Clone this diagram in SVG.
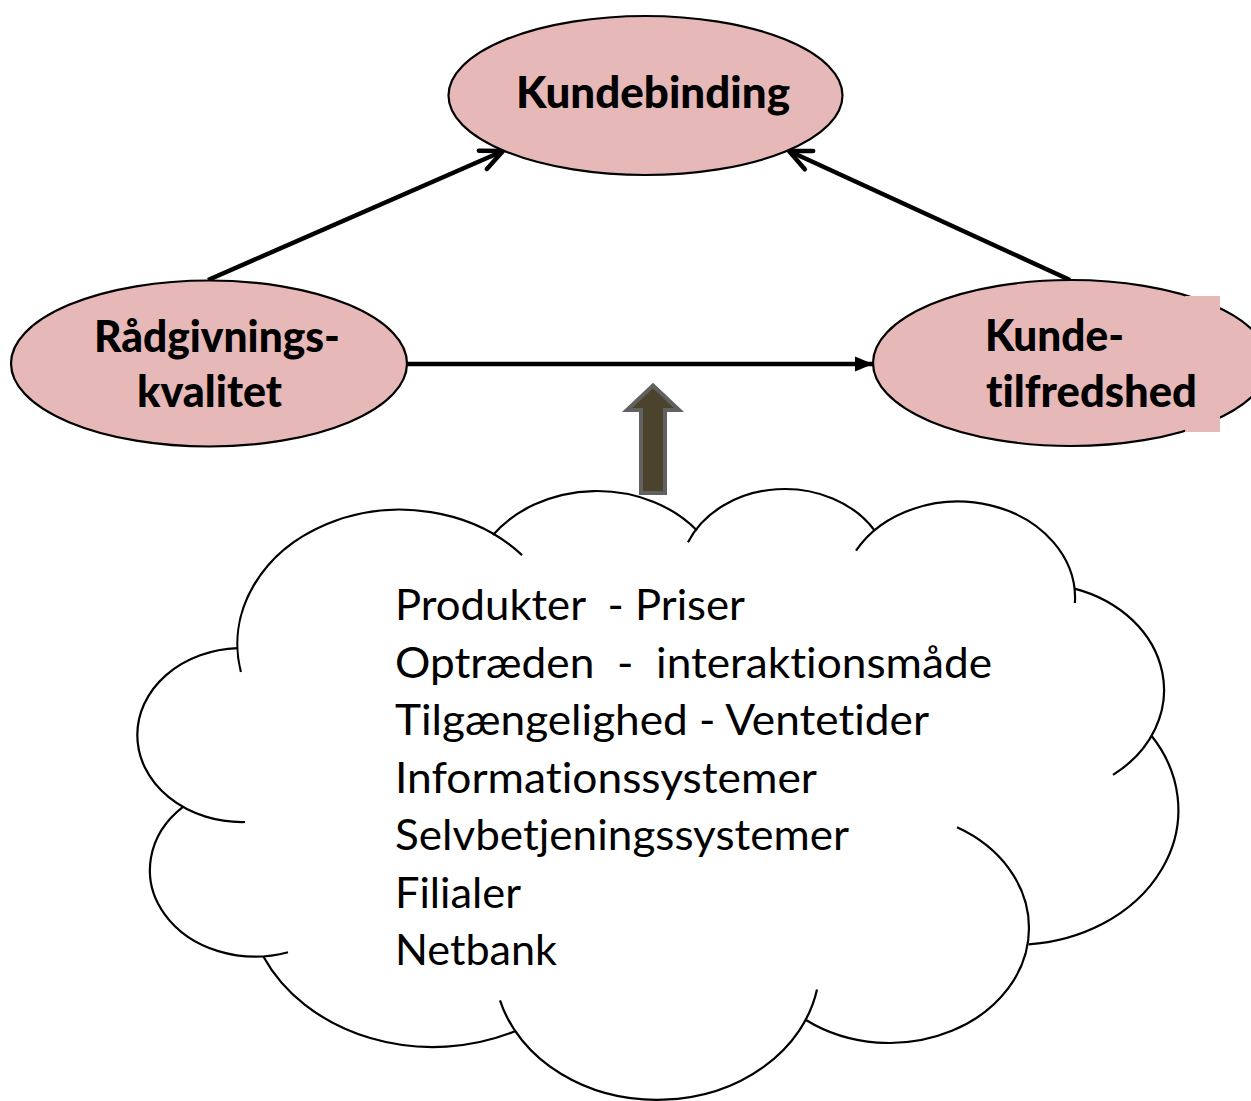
<svg xmlns="http://www.w3.org/2000/svg" width="1251" height="1101" viewBox="0 0 1251 1101">
<defs>
<style>
text{font-variant-ligatures:none;font-feature-settings:"liga" 0,"clig" 0,"dlig" 0}
.node ellipse{fill:#e6b8b7;stroke:#000;stroke-width:2.2}
.lbl{font-family:Lato,"Open Sans","Liberation Sans",sans-serif;font-weight:900;font-size:43px;fill:#000}
.item{font-family:Lato,"Open Sans","Liberation Sans",sans-serif;font-size:42px;fill:#000;white-space:pre}
.cl{fill:none;stroke:#000;stroke-width:2.2}
.conn{stroke:#000;stroke-width:4.5;fill:none}
</style>
<marker id="chev" markerUnits="userSpaceOnUse" orient="auto" overflow="visible" refX="0" refY="0" markerWidth="30" markerHeight="30">
<path d="M-22,-10 L0,0 L-22,10" fill="none" stroke="#000" stroke-width="4.5" stroke-linecap="round" stroke-linejoin="round"/>
</marker>
<marker id="tri" markerUnits="userSpaceOnUse" orient="auto" overflow="visible" refX="0" refY="0" markerWidth="30" markerHeight="30">
<path d="M-18,-7.5 L0,0 L-18,7.5 Z" fill="#000"/>
</marker>
</defs>
<rect width="1251" height="1101" fill="#fff"/>

<g id="connectors">
<path class="conn" d="M208,280 L503,151" marker-end="url(#chev)"/>
<path class="conn" d="M1070,280 L789,151" marker-end="url(#chev)"/>
<path class="conn" d="M407,364 L873,364" marker-end="url(#tri)"/>
</g>

<g id="kundebinding" class="node">
<ellipse cx="645.5" cy="95.5" rx="197" ry="79.5"/>
<text class="lbl" x="516" y="108" textLength="274" lengthAdjust="spacingAndGlyphs">Kundebinding</text>
</g>

<g id="raadgivningskvalitet" class="node">
<ellipse cx="209" cy="363.5" rx="198" ry="83"/>
<text class="lbl" x="94" y="352" textLength="246" lengthAdjust="spacingAndGlyphs">Rådgivnings-</text>
<text class="lbl" x="137" y="407" textLength="145" lengthAdjust="spacingAndGlyphs">kvalitet</text>
</g>

<g id="kundetilfredshed" class="node">
<ellipse cx="1071" cy="363" rx="198" ry="83"/>
<rect x="1185" y="296" width="35" height="136" fill="#e6b8b7"/>
<text class="lbl" x="985" y="351" textLength="139" lengthAdjust="spacingAndGlyphs">Kunde-</text>
<text class="lbl" x="986" y="407" textLength="211" lengthAdjust="spacingAndGlyphs">tilfredshed</text>
</g>

<g id="block-arrow">
<polygon points="653,385.5 679,410 665,410 665,493 641,493 641,410 627,410" fill="#4b432c" stroke="#616161" stroke-width="4" stroke-linejoin="miter"/>
</g>

<g id="cloud">
<path class="cl" d="M240.9,672 A162.7,134.5 0 0 1 522,555.1"/>
<path class="cl" d="M493,534.9 A128.5,106.3 0 0 1 697,530.5"/>
<path class="cl" d="M688,542.3 A105.2,87 0 0 1 874.5,530.3"/>
<path class="cl" d="M856,550.6 A117.1,96.5 0 0 1 1074.9,603"/>
<path class="cl" d="M1074.5,588.6 A128.5,106.4 0 0 1 1113,774.9"/>
<path class="cl" d="M1151.5,735.8 A163.3,134.9 0 0 1 1028.5,944.4"/>
<path class="cl" d="M957,827.3 A139.4,115.1 0 0 1 1029,928 A139.4,115.1 0 0 1 806,1020"/>
<path class="cl" d="M500,1000.3 A162.7,134.8 0 0 0 817,989.5"/>
<path class="cl" d="M263.5,956.7 A186.1,154.2 0 0 0 515,1031.2"/>
<path class="cl" d="M183,806.9 A105.1,86.6 0 0 0 288,952.2"/>
<path class="cl" d="M237.5,648.1 A104.7,87 0 0 0 137.3,735 A104.7,87 0 0 0 245,822"/>
<text class="item" xml:space="preserve" x="395" y="620" textLength="350" lengthAdjust="spacingAndGlyphs">Produkter  - Priser</text>
<text class="item" xml:space="preserve" x="395" y="677.5" textLength="597" lengthAdjust="spacingAndGlyphs">Optræden  -  interaktionsmåde</text>
<text class="item" x="395" y="735" textLength="534" lengthAdjust="spacingAndGlyphs">Tilgængelighed - Ventetider</text>
<text class="item" x="395" y="792.5" textLength="422" lengthAdjust="spacingAndGlyphs">Informationssystemer</text>
<text class="item" x="395" y="850" textLength="454" lengthAdjust="spacingAndGlyphs">Selvbetjeningssystemer</text>
<text class="item" x="395" y="907.5" textLength="126" lengthAdjust="spacingAndGlyphs">Filialer</text>
<text class="item" x="395" y="965" textLength="162" lengthAdjust="spacingAndGlyphs">Netbank</text>
</g>
</svg>
